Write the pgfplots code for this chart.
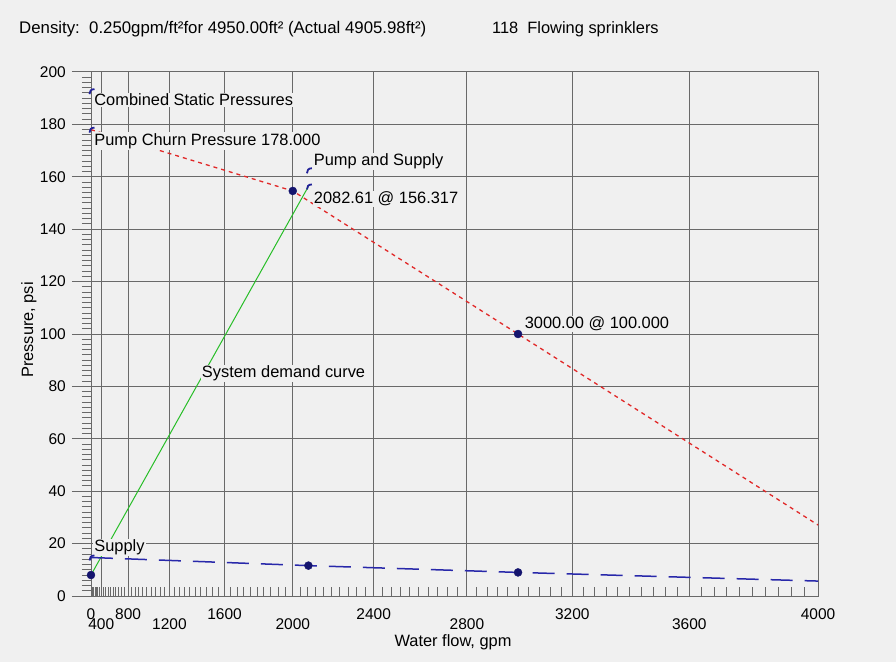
\documentclass[border=0pt]{standalone}
\usepackage{fontspec}
\setmainfont{Liberation Sans}
\usepackage{pgfplots}
\pgfplotsset{compat=1.18}
\definecolor{bg}{RGB}{240,240,240}
\definecolor{gridc}{RGB}{105,105,105}
\definecolor{pumpred}{RGB}{225,40,40}
\definecolor{demgreen}{RGB}{40,190,40}
\definecolor{supblue}{RGB}{40,40,170}
\definecolor{navy}{RGB}{20,20,110}
\pgfdeclareplotmark{hook}{%
 \pgfsetlinewidth{1.8pt}%
 \pgfpathmoveto{\pgfqpoint{-1.5pt}{-3pt}}%
 \pgfpathcurveto{\pgfqpoint{-1.5pt}{0pt}}{\pgfqpoint{0pt}{2pt}}{\pgfqpoint{3.5pt}{2pt}}%
 \pgfusepathqstroke}
\newcommand\lab{\fontsize{16.4}{19}\selectfont}
\newcommand\tlab{\fontsize{15.5}{18}\selectfont}
\tikzset{lbl/.style={font=\lab, fill=bg, inner sep=1pt, anchor=base west}}
\begin{document}
\begin{tikzpicture}
\fill[bg] (0pt,0pt) rectangle (896pt,662pt);
\begin{axis}[at={(91pt,66pt)}, anchor=south west, scale only axis,
 width=727pt, height=524pt,
 x coord trafo/.code={\pgfmathparse{4000*exp(1.85*ln(((#1)+1)/4000))}},
 xmin=0, xmax=4000, ymin=0, ymax=200,
 clip=false,
 axis line style={gridc, line width=1pt},
 grid=major, major grid style={gridc, line width=1pt},
 xtick={0,800,1600,2400,3200,4000},
 xticklabels={0,800,1600,2400,3200,4000},
 extra x ticks={400,1200,2000,2800,3600},
 extra x tick labels={400,1200,2000,2800,3600},
 extra x tick style={grid=major, xticklabel style={yshift=-10pt}},
 minor xtick={40,80,120,160,200,240,280,320,360,440,480,520,560,600,640,680,720,760,840,880,920,960,1000,1040,1080,1120,1160,1240,1280,1320,1360,1400,1440,1480,1520,1560,1640,1680,1720,1760,1800,1840,1880,1920,1960,2040,2080,2120,2160,2200,2240,2280,2320,2360,2440,2480,2520,2560,2600,2640,2680,2720,2760,2840,2880,2920,2960,3000,3040,3080,3120,3160,3240,3280,3320,3360,3400,3440,3480,3520,3560,3640,3680,3720,3760,3800,3840,3880,3920,3960},
 ytick={0,20,40,60,80,100,120,140,160,180,200},
 yticklabels={0,20,40,60,80,100,120,140,160,180,200},
 minor ytick={2,4,6,8,10,12,14,16,18,22,24,26,28,30,32,34,36,38,42,44,46,48,50,52,54,56,58,62,64,66,68,70,72,74,76,78,82,84,86,88,90,92,94,96,98,102,104,106,108,110,112,114,116,118,122,124,126,128,130,132,134,136,138,142,144,146,148,150,152,154,156,158,162,164,166,168,170,172,174,176,178,182,184,186,188,190,192,194,196,198},
 tick align=inside,
 major tick length=19pt, minor tick length=9pt,
 xtick pos=bottom, ytick pos=left,
 tick style={gridc, line width=1pt},
 major y tick style={xshift=-19pt},
 minor y tick style={xshift=-9pt},
 xticklabel style={font=\tlab, inner sep=0pt, anchor=north, yshift=-12pt},
 yticklabel style={font=\tlab, inner sep=0pt, anchor=east, xshift=-25pt},
]
% pump curve
\addplot[pumpred, line width=1.3pt, dash pattern=on 4pt off 4pt] coordinates {(0,178) (2000,154.6) (3000,100) (4000,27.1)};
% system demand curve
\addplot[demgreen, line width=1pt] coordinates {(0,8.0) (2082.61,156.317)};
% supply curve
\addplot[supblue, line width=1.5pt, dash pattern=on 22pt off 12pt] coordinates {(0,14.7) (2082.61,11.6) (3000,9.0) (4000,5.7)};
% labels
\node[lbl] at (rel axis cs:0.003,0.936) {Combined Static Pressures};
\node[lbl] at (rel axis cs:0.003,0.860) {Pump Churn Pressure 178.000};
\node[lbl] at (rel axis cs:0.305,0.8216) {Pump and Supply};
\node[lbl] at (rel axis cs:0.305,0.749) {2082.61 @ 156.317};
\node[lbl] at (rel axis cs:0.595,0.5105) {3000.00 @ 100.000};
\node[lbl] at (rel axis cs:0.151,0.417) {System demand curve};
\node[lbl] at (rel axis cs:0.003,0.085) {Supply};
% markers
\addplot[only marks, mark=*, mark size=4pt, navy] coordinates {(2000,154.6) (3000,100) (0,8.0) (2082.61,11.6) (3000,9.0)};
\addplot[only marks, mark=hook, supblue!70!navy] coordinates {(0,192.7) (0,178) (0,14.7) (2082.61,162.5) (2082.61,156.317)};
\end{axis}
\node[font=\fontsize{16.8}{19}\selectfont, anchor=base west, inner sep=0pt] at (19pt,628pt) {Density:\ \ 0.250gpm/ft²for 4950.00ft² (Actual 4905.98ft²)};
\node[font=\lab, anchor=base west, inner sep=0pt] at (492pt,628pt) {118\ \ Flowing sprinklers};
\node[font=\lab, rotate=90, anchor=base, inner sep=0pt] at (33pt,332pt) {Pressure, psi};
\node[font=\lab, anchor=base, inner sep=0pt] at (453pt,16pt) {Water flow, gpm};
\end{tikzpicture}
\end{document}
